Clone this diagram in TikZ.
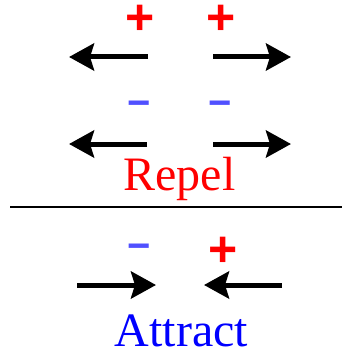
\documentclass[tikz,border=0pt]{standalone}
\usepackage{fontspec}
\setmainfont{Liberation Serif}
\newfontfamily\signfont{Liberation Sans}
\usetikzlibrary{arrows.meta}
\definecolor{plusred}{RGB}{255,0,0}
\definecolor{minusblue}{RGB}{80,80,255}
\definecolor{attractblue}{RGB}{0,0,255}
\tikzset{
  forcearrow/.style={line width=5pt, -{Stealth[length=25pt,width=27pt,inset=4pt]}},
  plussign/.style={inner sep=0pt, text=plusred, font=\signfont\bfseries\fontsize{50}{50}\selectfont},
  minussign/.style={inner sep=0pt, text=minusblue, font=\signfont\bfseries\fontsize{40}{40}\selectfont},
  bigword/.style={inner sep=0pt, anchor=base, font=\fontsize{48}{50}\selectfont},
}
\begin{document}
\begin{tikzpicture}[x=1pt,y=-1pt]
\useasboundingbox (0,0) rectangle (342,353);
% Repel: like charges
\node[plussign] (p1) at (140,20) {+};
\node[plussign] (p2) at (221,20) {+};
\coordinate (a1t) at (148,57); \coordinate (a1h) at (69,57);
\coordinate (a2t) at (213,57); \coordinate (a2h) at (291,57);
\draw[forcearrow] (a1t) -- (a1h);
\draw[forcearrow] (a2t) -- (a2h);
\node[minussign] (m1) at (139,108.5) {−};
\node[minussign] (m2) at (220,108.5) {−};
\coordinate (b1t) at (147,144); \coordinate (b1h) at (69,144);
\coordinate (b2t) at (213,144); \coordinate (b2h) at (291,144);
\draw[forcearrow] (b1t) -- (b1h);
\draw[forcearrow] (b2t) -- (b2h);
\node[bigword, text=plusred] (repel) at (179.5,190) {Repel};
% divider
\coordinate (dl) at (10,207); \coordinate (dr) at (342,207);
\draw[line width=2pt] (dl) -- (dr);
% Attract: opposite charges
\node[minussign] (m3) at (139.5,252) {−};
\node[plussign] (p3) at (223,252) {+};
\coordinate (c1t) at (77,285); \coordinate (c1h) at (156,285);
\coordinate (c2t) at (282,285); \coordinate (c2h) at (204,285);
\draw[forcearrow] (c1t) -- (c1h);
\draw[forcearrow] (c2t) -- (c2h);
\node[bigword, text=attractblue] (attract) at (181.5,346) {Attract};
\end{tikzpicture}
\end{document}
